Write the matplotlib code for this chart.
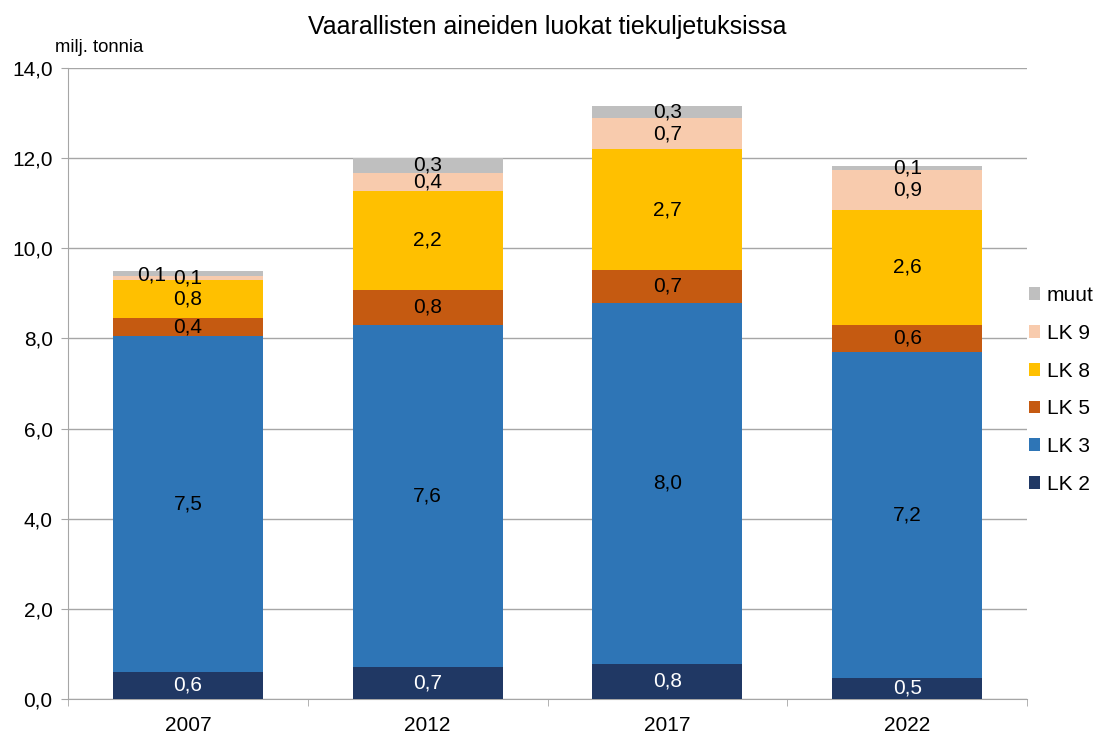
import matplotlib.pyplot as plt
import numpy as np
from matplotlib.ticker import FuncFormatter

plt.rcParams['font.family'] = ['Liberation Sans', 'DejaVu Sans']

years = ['2007', '2012', '2017', '2022']
lk2 = [0.60, 0.71, 0.78, 0.47]
lk3 = [7.46, 7.59, 8.01, 7.23]
lk5 = [0.40, 0.78, 0.73, 0.60]
lk8 = [0.84, 2.20, 2.68, 2.56]
lk9 = [0.09, 0.40, 0.69, 0.87]
muut = [0.11, 0.33, 0.27, 0.09]

series = [('LK 2', lk2, '#203864'), ('LK 3', lk3, '#2E75B6'), ('LK 5', lk5, '#C55A11'),
          ('LK 8', lk8, '#FFC000'), ('LK 9', lk9, '#F8CBAD'), ('muut', muut, '#BFBFBF')]

fig = plt.figure(figsize=(10.94, 7.33), dpi=100)
ax = fig.add_axes([68/1094, 1-699/733, (1027-68)/1094, (699-68)/733])

x = np.arange(len(years))
bottom = np.zeros(len(years))
handles = []
for name, vals, col in series:
    vals = np.array(vals)
    bars = ax.bar(x, vals, 0.625, bottom=bottom, color=col, label=name, zorder=3)
    handles.append(bars)
    labels = [f"{v:.1f}".replace('.', ',') for v in vals]
    anns = ax.bar_label(bars, labels=labels, label_type='center', fontsize=15,
                        color='white' if name == 'LK 2' else 'black', zorder=4)
    if name == 'muut':
        anns[0].xyann = (-26, -1)
    bottom += vals

ax.set_xlim(-0.5, 3.5)
ax.set_ylim(0, 14)
ax.set_yticks(np.arange(0, 14.1, 2))
ax.yaxis.set_major_formatter(FuncFormatter(lambda v, p: f"{v:.1f}".replace('.', ',')))
ax.set_xticks(x)
ax.set_xticklabels(years)
ax.set_xticks(np.arange(-0.5, 3.6, 1), minor=True)
ax.grid(axis='y', color='#A6A6A6', linewidth=1, zorder=0)
for s in ['top', 'right']:
    ax.spines[s].set_visible(False)
for s in ['left', 'bottom']:
    ax.spines[s].set_color('#A6A6A6')
ax.tick_params(axis='y', length=5, color='#A6A6A6', labelsize=15, pad=6)
ax.tick_params(axis='x', which='major', length=0, labelsize=15, pad=12)
ax.tick_params(axis='x', which='minor', length=5, color='#A6A6A6')

fig.suptitle('Vaarallisten aineiden luokat tiekuljetuksissa', fontsize=18, y=1-27/733, va='center')
fig.text(55/1094, 1-47/733, 'milj. tonnia', fontsize=13.3, va='center', ha='left')

fig.legend(handles[::-1], [s[0] for s in series][::-1], loc='center left',
           bbox_to_anchor=(1029/1094, 1-390/733), frameon=False, fontsize=15,
           handlelength=0.55, handleheight=0.55, handletextpad=0.3, labelspacing=0.9,
           borderpad=0, borderaxespad=0)

fig.savefig('out.png', dpi=100)
